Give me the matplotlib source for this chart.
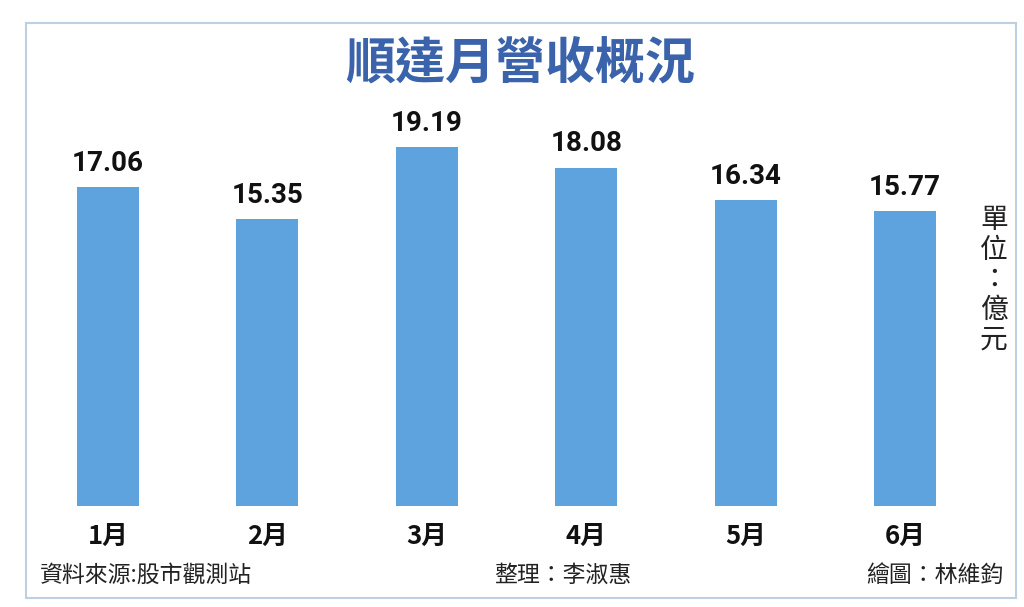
import matplotlib
matplotlib.use("Agg")
import matplotlib.pyplot as plt
from matplotlib.patches import Rectangle

plt.rcParams['font.family'] = ['Noto Sans CJK TC', 'DejaVu Sans']

# data
months = ["1月", "2月", "3月", "4月", "5月", "6月"]
revenue = [17.06, 15.35, 19.19, 18.08, 16.34, 15.77]

title = "順達月營收概況"
unit = "單位：億元"
source = "資料來源:股市觀測站"
editor = "整理：李淑惠"
artist = "繪圖：林維鈞"

bar_color = "#5fa3de"
title_color = "#3a63ac"

W, H = 1024, 607
fig = plt.figure(figsize=(W / 100, H / 100), dpi=100)
fig.patch.set_facecolor("white")

# outer frame
fig.add_artist(Rectangle((26 / W, (H - 598) / H), (1016 - 26) / W, (598 - 23) / H,
                         transform=fig.transFigure, fill=False,
                         edgecolor="#bcd0e2", linewidth=1.5))

# axes: bar centres at 108 + 159.4*i px, zero line at y=506 px, 18.7 px per unit
left = 108 - 0.5 * 159.4
right = 108 + 5.5 * 159.4
bottom = H - 506
ymax = 22
ax = fig.add_axes([left / W, bottom / H, (right - left) / W, ymax * 18.7 / H])
ax.set_xlim(-0.5, 5.5)
ax.set_ylim(0, ymax)
ax.axis("off")

x = range(len(months))
ax.bar(x, revenue, width=0.39, color=bar_color)

for i, v in enumerate(revenue):
    ax.annotate(f"{v:.2f}", (i, v), xytext=(0, 7.5), textcoords="offset points",
                ha="center", va="bottom", fontsize=20, fontweight="bold",
                family=["Roboto", "DejaVu Sans"], color="#111111")
    ax.annotate(months[i], (i, 0), xytext=(0, -12), textcoords="offset points",
                ha="center", va="top", fontsize=18.5, fontweight="semibold",
                color="#111111")

fig.text(520 / W, 1 - 64 / H, title, ha="center", va="center",
         fontsize=36, fontweight="semibold", color=title_color)

fig.text(994 / W, 1 - 280 / H, "\n".join(unit), ha="center", va="center",
         fontsize=20, color="#222222", linespacing=1.0)

fig.text(40 / W, 1 - 575 / H, source, ha="left", va="center",
         fontsize=16.5, color="#222222")
fig.text(563 / W, 1 - 575 / H, editor, ha="center", va="center",
         fontsize=16.5, color="#222222")
fig.text(1003 / W, 1 - 575 / H, artist, ha="right", va="center",
         fontsize=16.5, color="#222222")

fig.savefig("out.png", dpi=100)
